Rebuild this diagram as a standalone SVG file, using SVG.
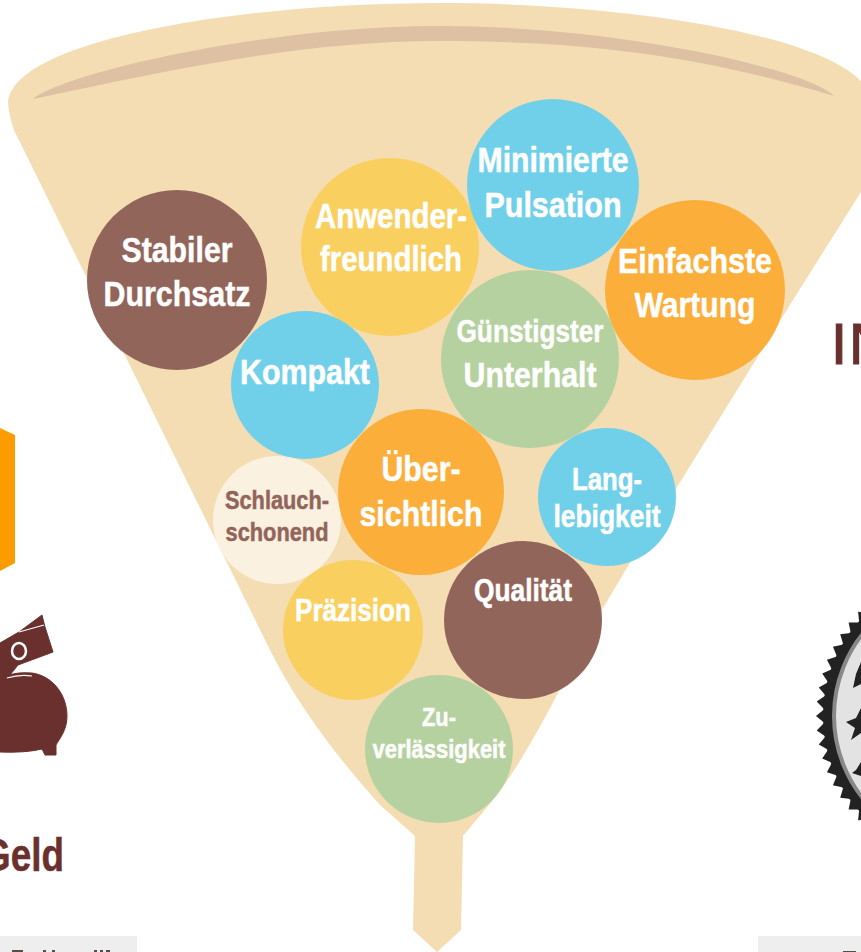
<svg xmlns="http://www.w3.org/2000/svg" width="861" height="952" viewBox="0 0 861 952">
<style>
text{font-family:"Liberation Sans",Arial,sans-serif;font-weight:700;text-anchor:middle;fill:#fff;stroke:#fff;stroke-width:.5px}
.l{font-size:35px}.m{font-size:31px}.s{font-size:26px}
.brown{fill:#92655a;stroke:#92655a}
.dark{fill:#6a302e;stroke:#6a302e}
.blue{fill:#71d0e9}.yellow{fill:#f9d05f}.orange{fill:#fbae39}.green{fill:#b6d1a0}.umber{fill:#92655a}
</style>
<rect width="861" height="952" fill="#fff"/>
<g id="funnel">
<path d="M8 103C12 40 240 3 440 3C640 3 868 40 872 103L878 165L793 300L628 566L590 630C560 690 525 760 493 800L463 836L461 930L437 952L413 930L415 836L380 805C340 760 300 710 270 650L14 130Q9 115 8 103Z" fill="#f4ddb3"/>
<path d="M33 99C60 75 260 26 440 26C620 26 810 70 834 96C700 55 580 41 440 41C300 41 170 70 33 99Z" fill="#dec0a2"/>
</g>
<g id="left-side">
<path d="M0 428L15 435V563L0 571Z" fill="#ff9c00"/>
<path d="M0 643L19 632L42 615L45 627L53 652L18 665L10 675Q17 672 32 673C53 676 67 695 67 716C67 730 60 738 56 745V755H45L42 749Q25 753 0 752Z" class="dark"/>
<path d="M19 632L44 625M7 678Q20 674 32 676" fill="none" stroke="#fff" stroke-width="1.2"/>
<ellipse cx="19" cy="651" rx="7" ry="8" fill="none" stroke="#fff" stroke-width="2.5"/>
<text x="-18" y="871" class="dark" style="text-anchor:start;font-size:46px" textLength="82" lengthAdjust="spacingAndGlyphs">Geld</text>
<rect x="0" y="936" width="137" height="16" fill="#eeeeee"/>
<path d="M12 950h11v2h-11zM43 950h3v2h-3zM52 950h3v2h-3zM94 950h3v2h-3zM100 950h3v2h-3zM106 950h4v2h-4z" fill="#5a4a4a"/>
</g>
<g id="right-side">
<text x="831" y="364" class="dark" style="text-anchor:start;font-weight:400;font-size:58px;letter-spacing:2px;stroke-width:1.2px">IN</text>
<circle cx="966" cy="716" r="143" fill="#222"/>
<polygon fill="#222" points="868.7,612.6 858.1,611.8 859.2,622.4 848.6,622.6 850.8,633 840.2,634.3 843.3,644.5 832.9,646.7 837,656.6 826.9,659.8 831.9,669.2 822.2,673.4 828.1,682.2 818.8,687.4 825.5,695.6 816.7,701.6 824.2,709.2 816,716 824.2,722.8 816.7,730.4 825.5,736.4 818.8,744.6 828.1,749.8 822.2,758.6 831.9,762.8 826.9,772.2 837,775.4 832.9,785.3 843.3,787.5 840.2,797.7 850.8,799 848.6,809.4 859.2,809.6 858.1,820.2 868.7,819.4"/>
<circle cx="966" cy="716" r="132" fill="#e3e3e3" stroke="#888" stroke-width="4"/>
<polygon fill="#222" points="861,708 856,718 846,722 855,728 851,740 861,733 870,730 861,720"/>
<polygon fill="#222" points="861,662 856,674 853,688 861,684 870,680"/>
<polygon fill="#222" points="861,762 856,770 852,773 861,776 870,770"/>
<rect x="758" y="936" width="103" height="16" fill="#eeeeee"/>
<path d="M843 951h13v1h-13z" fill="#5a4a4a"/>
</g>
<g id="stabiler"><circle cx="177" cy="280" r="90" class="umber"/><text x="177" y="262" class="l" textLength="111" lengthAdjust="spacingAndGlyphs">Stabiler</text><text x="177" y="306" class="l" textLength="147" lengthAdjust="spacingAndGlyphs">Durchsatz</text></g>
<g id="anwender"><circle cx="390" cy="247" r="89" class="yellow"/><text x="391" y="228" class="l" textLength="152" lengthAdjust="spacingAndGlyphs">Anwender-</text><text x="391" y="271" class="l" textLength="142" lengthAdjust="spacingAndGlyphs">freundlich</text></g>
<g id="minimierte"><circle cx="553" cy="185" r="86" class="blue"/><text x="553" y="172" class="l" textLength="151" lengthAdjust="spacingAndGlyphs">Minimierte</text><text x="553" y="217" class="l" textLength="137" lengthAdjust="spacingAndGlyphs">Pulsation</text></g>
<g id="einfachste"><circle cx="695" cy="290" r="90" class="orange"/><text x="695" y="273" class="l" textLength="154" lengthAdjust="spacingAndGlyphs">Einfachste</text><text x="695" y="317" class="l" textLength="121" lengthAdjust="spacingAndGlyphs">Wartung</text></g>
<g id="guenstigster"><circle cx="530" cy="359" r="89" class="green"/><text x="530" y="342" class="m" textLength="147" lengthAdjust="spacingAndGlyphs">Günstigster</text><text x="530" y="387" class="l" textLength="133" lengthAdjust="spacingAndGlyphs">Unterhalt</text></g>
<g id="kompakt"><circle cx="305" cy="385" r="74" class="blue"/><text x="305" y="384" class="l" textLength="130" lengthAdjust="spacingAndGlyphs">Kompakt</text></g>
<g id="langlebigkeit"><circle cx="607" cy="497" r="69" class="blue"/><text x="607" y="490" class="m" textLength="70" lengthAdjust="spacingAndGlyphs">Lang-</text><text x="607" y="527" class="m" textLength="107" lengthAdjust="spacingAndGlyphs">lebigkeit</text></g>
<g id="schlauch"><circle cx="277" cy="520" r="64" fill="#fbf1e1"/><text x="277" y="509" class="s brown" textLength="104" lengthAdjust="spacingAndGlyphs">Schlauch-</text><text x="277" y="541" class="s brown" textLength="103" lengthAdjust="spacingAndGlyphs">schonend</text></g>
<g id="uebersichtlich"><circle cx="421" cy="492" r="83" class="orange"/><text x="421" y="481" class="l" textLength="79" lengthAdjust="spacingAndGlyphs">Über-</text><text x="421" y="526" class="l" textLength="123" lengthAdjust="spacingAndGlyphs">sichtlich</text></g>
<g id="praezision"><circle cx="353" cy="630" r="70" class="yellow"/><text x="353" y="621" class="m" textLength="116" lengthAdjust="spacingAndGlyphs">Präzision</text></g>
<g id="qualitaet"><circle cx="523" cy="620" r="79" class="umber"/><text x="523" y="601" class="m" textLength="98" lengthAdjust="spacingAndGlyphs">Qualität</text></g>
<g id="zuverlaessigkeit"><circle cx="439" cy="749" r="74" class="green"/><text x="439" y="726" class="s" textLength="34" lengthAdjust="spacingAndGlyphs">Zu-</text><text x="439" y="758" class="s" textLength="133" lengthAdjust="spacingAndGlyphs">verlässigkeit</text></g>
</svg>
